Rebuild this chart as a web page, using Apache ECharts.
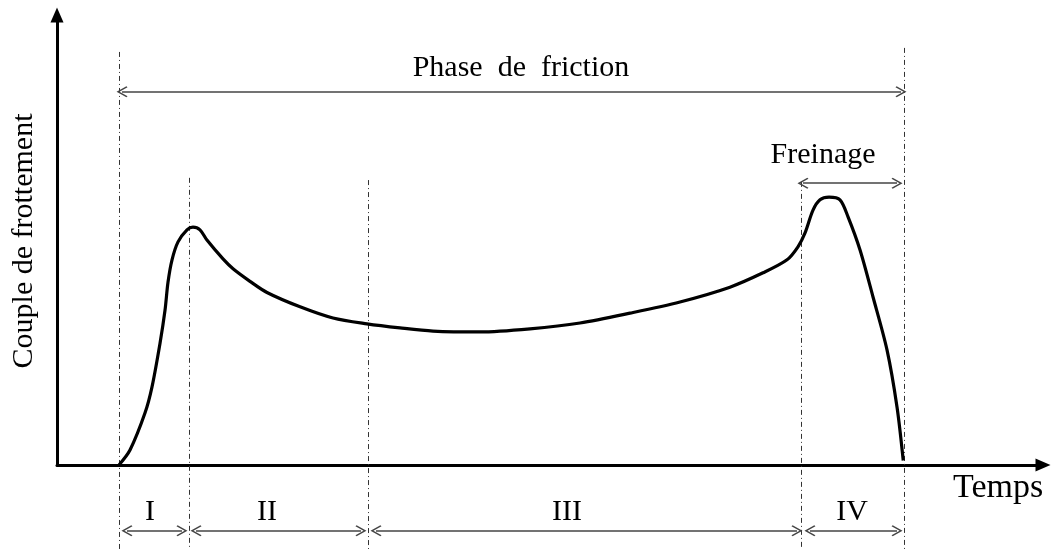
<!DOCTYPE html>
<html>
<head>
<meta charset="utf-8">
<script src="https://cdn.jsdelivr.net/npm/echarts@6/dist/echarts.min.js"></script>
<style>
html, body { margin: 0; padding: 0; background: #fff; }
#chart { width: 1051px; height: 549px; }
</style>
</head>
<body>
<div id="chart"></div>
<script>
// courbe du couple (temps, couple)
var temps = [6.30, 7.42, 8.94, 9.65, 10.47, 10.98, 11.28, 11.69, 12.30, 13.21, 13.82, 14.53, 15.24, 16.87,
	17.89, 19.61, 21.34, 24.70, 28.05, 31.50, 34.86, 38.21, 42.99, 48.07, 53.15, 58.23, 63.31, 68.39,
	71.75, 74.19, 75.30, 76.02, 76.83, 77.54, 78.46, 79.57, 80.39, 81.61, 82.93, 84.35, 85.37, 86.0];
var couple = [0, 3.35, 11.6, 17.4, 27.2, 34.6, 40.8, 45.8, 49.8, 52.5, 53.1, 52.5, 50.2, 46.0,
	43.8, 41.0, 38.5, 35.3, 32.8, 31.5, 30.6, 29.9, 29.7, 30.4, 31.7, 33.9, 36.4, 39.7,
	42.9, 45.8, 48.7, 51.8, 56.9, 59.2, 59.8, 59.2, 55.4, 48.0, 37.5, 25.7, 12.9, 1.0];

// limites des phases
var limitesX = [6.30, 13.41, 31.61, 75.61, 86.08];
var limitesHaut = [92.2, 64.1, 63.6, 63.2, 93.1];
var limiteBas = -18.8;

// phases I..IV
var phases = ['I', 'II', 'III', 'IV'];
var phasesDebut = [7.11, 14.13, 32.42, 76.52];
var phasesFin = [12.70, 30.89, 75.20, 85.37];
var phasesTexteX = [9.45, 21.34, 51.83, 80.79];
var phasesY = -14.7;
var phasesTexteY = -10.6;

// fleches du haut
var etiquettes = ['Phase  de  friction', 'Freinage'];
var etiquettesDebut = [6.61, 75.81];
var etiquettesFin = [85.77, 85.37];
var etiquettesY = [83.3, 62.9];
var etiquettesTexteX = [47.15, 77.85];
var etiquettesTexteY = [88.6, 69.2];

var police = '"Liberation Serif", "Times New Roman", serif';
var chevron = 'path://M0,0 L10,12 L8.2,13.4 L0,3.6 L-8.2,13.4 L-10,12 Z';

var courbe = [];
for (var i = 0; i < temps.length; i++) {
	courbe.push([temps[i], couple[i]]);
}

var verticales = [];
for (var i = 0; i < limitesX.length; i++) {
	verticales.push({ coords: [[limitesX[i], limitesHaut[i]], [limitesX[i], limiteBas]] });
}

var fleches = [];
var textes = [];
for (var i = 0; i < phases.length; i++) {
	fleches.push({ coords: [[phasesDebut[i], phasesY], [phasesFin[i], phasesY]] });
	textes.push({ name: phases[i], value: [phasesTexteX[i], phasesTexteY] });
}
for (var i = 0; i < etiquettes.length; i++) {
	fleches.push({ coords: [[etiquettesDebut[i], etiquettesY[i]], [etiquettesFin[i], etiquettesY[i]]] });
	textes.push({ name: etiquettes[i], value: [etiquettesTexteX[i], etiquettesTexteY[i]] });
}

var chart = echarts.init(document.getElementById('chart'));
chart.setOption({
	animation: false,
	backgroundColor: '#fff',
	grid: { left: 57, right: 10, top: 17, bottom: 84, outerBoundsMode: 'none', containLabel: false },
	xAxis: {
		type: 'value', min: 0, max: 100,
		name: 'Temps', nameLocation: 'end', nameGap: -88,
		nameTextStyle: { fontFamily: police, fontSize: 34, color: '#000', align: 'left', verticalAlign: 'top', padding: [6, 0, 0, 0] },
		axisLine: { onZero: false, symbol: ['none', 'triangle'], symbolSize: [13, 15], symbolOffset: [0, 2], lineStyle: { color: '#000', width: 3 } },
		axisTick: { show: false }, axisLabel: { show: false }, splitLine: { show: false }
	},
	yAxis: {
		type: 'value', min: 0, max: 100,
		name: 'Couple de frottement', nameLocation: 'middle', nameGap: 18, nameRotate: 90,
		nameTextStyle: { fontFamily: police, fontSize: 30, color: '#000' },
		axisLine: { onZero: false, symbol: ['none', 'triangle'], symbolSize: [13, 15], symbolOffset: [0, 2], lineStyle: { color: '#000', width: 3 } },
		axisTick: { show: false }, axisLabel: { show: false }, splitLine: { show: false }
	},
	series: [
		{
			type: 'lines', coordinateSystem: 'cartesian2d', clip: false, silent: true,
			lineStyle: { color: '#333', width: 1, type: [5, 3, 1, 3], opacity: 1 },
			data: verticales
		},
		{
			type: 'lines', coordinateSystem: 'cartesian2d', clip: false, silent: true,
			symbol: [chevron, chevron], symbolSize: 11,
			lineStyle: { color: '#444', width: 1.5, opacity: 1 },
			data: fleches
		},
		{
			type: 'line', data: courbe, smooth: 0.3, showSymbol: false, silent: true,
			lineStyle: { color: '#000', width: 3.2 }
		},
		{
			type: 'scatter', clip: false, silent: true, symbolSize: 0,
			itemStyle: { opacity: 1 },
			label: {
				show: true, position: 'inside', formatter: '{b}',
				fontFamily: police, fontSize: 30, color: '#000', opacity: 1,
				textBorderWidth: 0, textBorderColor: 'transparent'
			},
			data: textes
		}
	]
});
</script>
</body>
</html>
